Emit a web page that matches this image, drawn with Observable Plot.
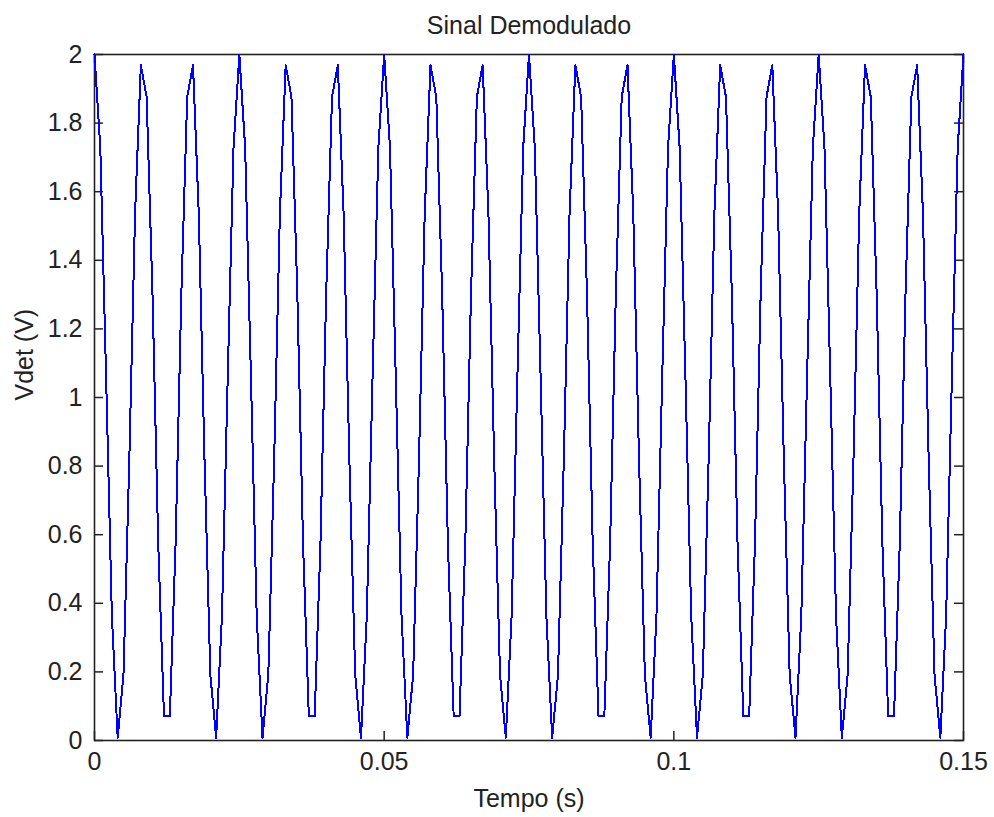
<!DOCTYPE html>
<html>
<head>
<meta charset="utf-8">
<script src="https://cdn.jsdelivr.net/npm/d3@7"></script>
<script src="https://cdn.jsdelivr.net/npm/@observablehq/plot@0.6"></script>
<style>
  html, body { margin: 0; padding: 0; background: #fff; }
  #chart svg { display: block; }
</style>
</head>
<body>
<div id="chart"></div>
<script>
// Texts
const titulo = "Sinal Demodulado";
const rotuloX = "Tempo (s)";
const rotuloY = "Vdet (V)";

// Tick values
const ticksX = [0, 0.05, 0.1, 0.15];
const ticksY = [0, 0.2, 0.4, 0.6, 0.8, 1, 1.2, 1.4, 1.6, 1.8, 2];

// Sampling interval of the plotted signal (s)
const passoAmostragem = 0.001;

// Demodulated signal samples, Vdet (V), one per sampling step from t = 0 to t = 0.15 s
const vdet = [
  2.000, 1.729, 1.063, 0.363, 0.008, 0.191, 0.813, 1.536, 1.969, 1.876,
  1.309, 0.574, 0.070, 0.070, 0.574, 1.309, 1.876, 1.969, 1.536, 0.813,
  0.191, 0.008, 0.363, 1.063, 1.729,
  2.000, 1.729, 1.063, 0.363, 0.008, 0.191, 0.813, 1.536, 1.969, 1.876,
  1.309, 0.574, 0.070, 0.070, 0.574, 1.309, 1.876, 1.969, 1.536, 0.813,
  0.191, 0.008, 0.363, 1.063, 1.729,
  2.000, 1.729, 1.063, 0.363, 0.008, 0.191, 0.813, 1.536, 1.969, 1.876,
  1.309, 0.574, 0.070, 0.070, 0.574, 1.309, 1.876, 1.969, 1.536, 0.813,
  0.191, 0.008, 0.363, 1.063, 1.729,
  2.000, 1.729, 1.063, 0.363, 0.008, 0.191, 0.813, 1.536, 1.969, 1.876,
  1.309, 0.574, 0.070, 0.070, 0.574, 1.309, 1.876, 1.969, 1.536, 0.813,
  0.191, 0.008, 0.363, 1.063, 1.729,
  2.000, 1.729, 1.063, 0.363, 0.008, 0.191, 0.813, 1.536, 1.969, 1.876,
  1.309, 0.574, 0.070, 0.070, 0.574, 1.309, 1.876, 1.969, 1.536, 0.813,
  0.191, 0.008, 0.363, 1.063, 1.729,
  2.000, 1.729, 1.063, 0.363, 0.008, 0.191, 0.813, 1.536, 1.969, 1.876,
  1.309, 0.574, 0.070, 0.070, 0.574, 1.309, 1.876, 1.969, 1.536, 0.813,
  0.191, 0.008, 0.363, 1.063, 1.729,
  2.000
];

const W = 994, H = 817;
const mL = 94, mR = 31, mT = 54, mB = 77;
const frameW = W - mL - mR;
const frameH = H - mT - mB;
const tickLen = 9;
const font = "'Liberation Sans', Arial, Helvetica, sans-serif";
const textColor = "#222";

const chart = Plot.plot({
  width: W,
  height: H,
  marginLeft: mL,
  marginRight: mR,
  marginTop: mT,
  marginBottom: mB,
  style: { fontFamily: font, fontSize: "25px", color: textColor, background: "#fff" },
  x: { domain: [0, 0.15], label: null },
  y: { domain: [0, 2], label: null },
  marks: [
    Plot.frame({ stroke: "#222", strokeWidth: 1.6 }),
    // inward ticks on all four sides
    Plot.tickY(ticksY, { y: d => d, insetRight: frameW - tickLen, stroke: "#222", strokeWidth: 1.5 }),
    Plot.tickY(ticksY, { y: d => d, insetLeft: frameW - tickLen, stroke: "#222", strokeWidth: 1.5 }),
    Plot.tickX(ticksX, { x: d => d, insetTop: frameH - tickLen, stroke: "#222", strokeWidth: 1.5 }),
    Plot.tickX(ticksX, { x: d => d, insetBottom: frameH - tickLen, stroke: "#222", strokeWidth: 1.5 }),
    Plot.axisY({ ticks: ticksY, tickSize: 0, tickPadding: 12, tickFormat: d => String(d), fontSize: 25, label: null, fill: textColor }),
    Plot.axisX({ ticks: ticksX, tickSize: 0, tickPadding: 12, tickFormat: d => String(d), fontSize: 25, label: null, fill: textColor }),
    Plot.line(vdet, {
      x: (d, i) => i * passoAmostragem,
      y: d => d,
      stroke: "#0000ff",
      strokeWidth: 2,
      shapeRendering: "crispEdges"
    }),
    Plot.text([titulo], { frameAnchor: "top", lineAnchor: "bottom", dy: -21, fontSize: 25, fill: textColor }),
    Plot.text([rotuloX], { frameAnchor: "bottom", lineAnchor: "bottom", dy: 66, fontSize: 25, fill: textColor }),
    Plot.text([rotuloY], { frameAnchor: "left", lineAnchor: "bottom", rotate: -90, dx: -62, dy: 3, fontSize: 25, fill: textColor })
  ]
});
document.getElementById("chart").appendChild(chart);
</script>
</body>
</html>
